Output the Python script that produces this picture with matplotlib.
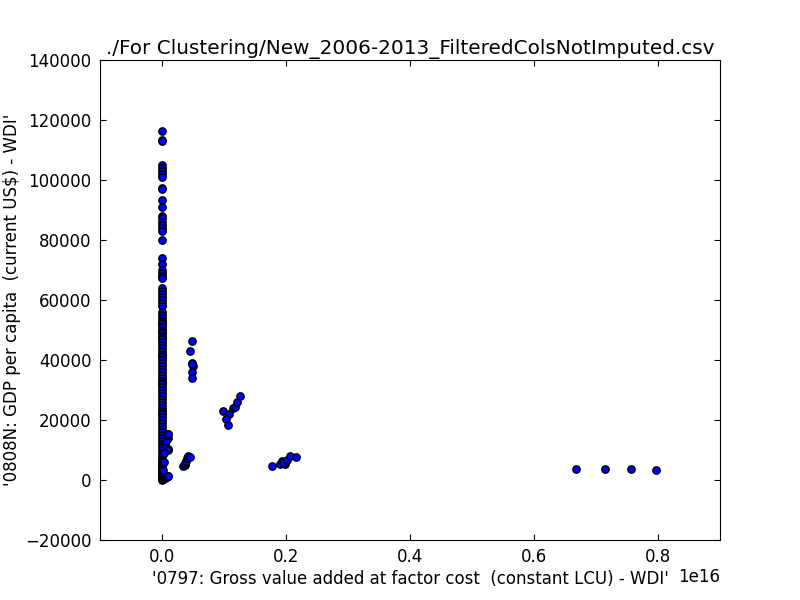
import matplotlib
matplotlib.use('Agg')
import matplotlib.pyplot as plt

title = './For Clustering/New_2006-2013_FilteredColsNotImputed.csv'
xlabel = "'0797: Gross value added at factor cost  (constant LCU) - WDI'"
ylabel = "'0808N: GDP per capita  (current US$) - WDI'"
x_tick_values = [0.0, 0.2, 0.4, 0.6, 0.8]
x_tick_labels = ['0.0', '0.2', '0.4', '0.6', '0.8']
y_tick_values = [-20000, 0, 20000, 40000, 60000, 80000, 100000, 120000, 140000]
y_tick_labels = ['\u221220000', '0', '20000', '40000', '60000', '80000', '100000', '120000', '140000']

# x in units of 1e16
y_main = [116500, 113500, 113000, 105000, 104000, 103000, 102000, 101000, 97200, 97000,
          93500, 91000, 88000, 87500, 86000, 85000, 84000, 83000, 80000,
          74000, 72000, 70000, 69000, 68000, 67500, 64000, 63000, 62000, 61000, 60000,
          59000, 58000, 56000, 55000, 54000, 53000, 52500, 52000, 51000, 50000, 49500, 49000,
          48000, 47500, 47000, 46000, 45000, 44000, 43000, 42000, 41500, 41000, 40000, 39000,
          38000, 37000, 36000, 35000, 34000, 33000, 32500, 32000, 31000, 30000, 29000, 28000,
          27000, 26000, 25000, 24000, 23000, 22500, 22000, 21000, 20000, 19000, 18000, 17000,
          16000, 15000, 14000, 13000, 12000, 11000, 10000, 9000, 8000, 7000, 6500, 6000, 5500,
          5000, 4500, 4000, 3500, 3000, 2500, 2000, 1500, 1000, 500, 100]
x_main = [0.0] * len(y_main)
x_small = [0.001, 0.002, 0.003, 0.004, 0.005, 0.006, 0.007, 0.008, 0.009, 0.010, 0.010, 0.009,
           0.008, 0.010, 0.009, 0.005, 0.004, 0.003, 0.002, 0.006, 0.008, 0.010]
y_small = [300, 500, 700, 600, 800, 1000, 1200, 1000, 1300, 1500, 10500, 10000,
           10200, 14000, 15500, 12000, 9000, 6000, 3500, 13000, 15000, 15500]
x_c1 = [0.0344, 0.0371, 0.0376, 0.0387, 0.0400, 0.0424, 0.0456]
y_c1 = [4570, 4900, 5570, 6330, 7200, 7900, 7800]
x_c2 = [0.0489, 0.0456, 0.0489, 0.0505, 0.0489, 0.0489, 0.0489]
y_c2 = [46400, 42900, 39100, 38000, 38600, 36100, 33900]
x_c3 = [0.0989, 0.1085, 0.1037, 0.1069, 0.1145, 0.1177, 0.1215, 0.1263]
y_c3 = [22900, 21900, 20200, 18200, 23900, 24200, 26000, 27900]
x_c4 = [0.1779, 0.1908, 0.1940, 0.1979, 0.1956, 0.2021, 0.2069, 0.2166]
y_c4 = [4670, 5230, 6330, 5230, 5770, 6670, 8000, 7570]
x_c5 = [0.667, 0.714, 0.756, 0.796]
y_c5 = [3600, 3600, 3600, 3300]

xs = x_main + x_small + x_c1 + x_c2 + x_c3 + x_c4 + x_c5
ys = y_main + y_small + y_c1 + y_c2 + y_c3 + y_c4 + y_c5

fig, ax = plt.subplots(figsize=(8, 6), dpi=100)
ax.scatter([v * 1e16 for v in xs], ys, s=28, c='#0000ff', edgecolors='black', linewidths=1.0, zorder=3)
ax.set_xlim(-0.1e16, 0.9e16)
ax.set_ylim(-20000, 140000)
ax.set_xticks([v * 1e16 for v in x_tick_values])
ax.set_xticklabels(x_tick_labels)
ax.set_yticks(y_tick_values)
ax.set_yticklabels(y_tick_labels)
ax.tick_params(direction='in', top=True, right=True, labelsize=12, length=4, pad=6)
ax.set_title(title, fontsize=14.4, pad=4)
ax.set_xlabel(xlabel, fontsize=12, labelpad=3)
ax.set_ylabel(ylabel, fontsize=12, labelpad=3)
ax.text(1.0, -0.077, '1e16', transform=ax.transAxes, ha='right', va='center', fontsize=12)
fig.subplots_adjust(left=0.125, right=0.9, top=0.9, bottom=0.1)
fig.savefig('out.png', dpi=100)
